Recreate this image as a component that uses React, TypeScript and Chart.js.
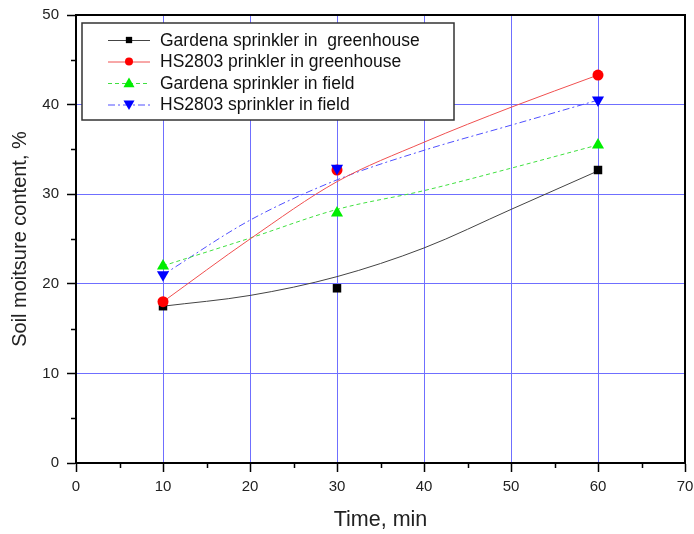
import React, { useEffect, useRef } from 'react';
import { Chart, registerables } from 'chart.js';

Chart.register(...registerables);

// fitted curve values
const curveX = [10, 20, 30, 40, 50, 60];
const curveGardenaGreenhouse = [17.5, 18.7, 20.8, 24.0, 28.3, 32.6];
const curveHSGreenhouse = [18.0, 25.0, 31.4, 35.8, 39.7, 43.3];
const curveGardenaField = [22.0, 25.1, 28.3, 30.4, 32.9, 35.5];
const curveHSField = [21.0, 27.1, 31.6, 34.9, 37.7, 40.5];

// measured points
const pointX = [10, 30, 60];
const ptsGardenaGreenhouse = [17.5, 19.5, 32.7];
const ptsHSGreenhouse = [18.0, 32.7, 43.3];
const ptsGardenaField = [22.0, 27.9, 35.5];
const ptsHSField = [21.0, 32.9, 40.5];

const seriesLabels = [
  'Gardena sprinkler in  greenhouse',
  'HS2803 prinkler in greenhouse',
  'Gardena sprinkler in field',
  'HS2803 sprinkler in field',
];

const xTicks = [0, 10, 20, 30, 40, 50, 60, 70];
const yTicks = [0, 10, 20, 30, 40, 50];
const xMinor = [5, 15, 25, 35, 45, 55, 65];
const yMinor = [5, 15, 25, 35, 45];

const FONT = "'Liberation Sans', Arial, sans-serif";
const GRID = '#6f6fff';

const styles = [
  { line: '#444444', marker: '#000000', dash: [] as number[], shape: 'rect' },
  { line: '#f05050', marker: '#ff0000', dash: [] as number[], shape: 'circle' },
  { line: '#40e040', marker: '#00ee00', dash: [4, 3], shape: 'triangle' },
  { line: '#5050ff', marker: '#0000ff', dash: [7, 3, 2, 3], shape: 'triangleDown' },
];

const zip = (xs: number[], ys: number[]) => xs.map((x, i) => ({ x, y: ys[i] }));

function drawMarker(ctx: CanvasRenderingContext2D, shape: string, x: number, y: number, s: number, color: string) {
  ctx.save();
  ctx.fillStyle = color;
  ctx.beginPath();
  if (shape === 'rect') {
    ctx.rect(x - s * 0.7, y - s * 0.7, s * 1.4, s * 1.4);
  } else if (shape === 'circle') {
    ctx.arc(x, y, s * 0.8, 0, Math.PI * 2);
  } else if (shape === 'triangle') {
    ctx.moveTo(x, y - s);
    ctx.lineTo(x + s, y + s * 0.75);
    ctx.lineTo(x - s, y + s * 0.75);
    ctx.closePath();
  } else {
    ctx.moveTo(x, y + s);
    ctx.lineTo(x + s, y - s * 0.75);
    ctx.lineTo(x - s, y - s * 0.75);
    ctx.closePath();
  }
  ctx.fill();
  ctx.restore();
}

const framePlugin = {
  id: 'frameAndMinor',
  afterDraw(chart: any) {
    const { ctx, chartArea } = chart;
    const { left, right, top, bottom } = chartArea;
    const xs = chart.scales.x;
    const ys = chart.scales.y;
    ctx.save();
    ctx.strokeStyle = '#000';
    ctx.lineWidth = 2;
    ctx.strokeRect(left, top, right - left, bottom - top);
    ctx.lineWidth = 1.5;
    ctx.beginPath();
    xMinor.forEach((v) => {
      const px = Math.round(xs.getPixelForValue(v)) + 0.5;
      ctx.moveTo(px, bottom);
      ctx.lineTo(px, bottom + 5);
    });
    yMinor.forEach((v) => {
      const py = Math.round(ys.getPixelForValue(v)) + 0.5;
      ctx.moveTo(left, py);
      ctx.lineTo(left - 5, py);
    });
    ctx.stroke();
    ctx.restore();
  },
};

const legendPlugin = {
  id: 'boxLegend',
  afterDatasetsDraw(chart: any) {
    const { ctx } = chart;
    const bx = 82, by = 23, bw = 372, bh = 97;
    ctx.save();
    ctx.fillStyle = '#ffffff';
    ctx.fillRect(bx, by, bw, bh);
    ctx.strokeStyle = '#333333';
    ctx.lineWidth = 1.5;
    ctx.strokeRect(bx, by, bw, bh);
    const rows = [40, 61.5, 83, 104.5];
    ctx.font = `17.5px ${FONT}`;
    ctx.textBaseline = 'middle';
    ctx.textAlign = 'left';
    rows.forEach((ry, i) => {
      const st = styles[i];
      ctx.strokeStyle = st.line;
      ctx.lineWidth = 1;
      ctx.setLineDash(st.dash);
      ctx.beginPath();
      ctx.moveTo(108, ry + 0.5);
      ctx.lineTo(150, ry + 0.5);
      ctx.stroke();
      ctx.setLineDash([]);
      drawMarker(ctx, st.shape, 129, ry, st.shape === 'rect' ? 4.5 : st.shape === 'circle' ? 5 : 5.5, st.marker);
      ctx.fillStyle = '#111111';
      ctx.fillText(seriesLabels[i], 160, ry + 1);
    });
    ctx.restore();
  },
};

export default function App() {
  const ref = useRef<HTMLCanvasElement | null>(null);

  useEffect(() => {
    if (!ref.current) return;
    const curves = [curveGardenaGreenhouse, curveHSGreenhouse, curveGardenaField, curveHSField];
    const pts = [ptsGardenaGreenhouse, ptsHSGreenhouse, ptsGardenaField, ptsHSField];
    const pointStyles: any[] = ['rect', 'circle', 'triangle', 'triangle'];
    const radii = [6, 5.5, 7, 7];

    const datasets: any[] = [];
    curves.forEach((c, i) => {
      datasets.push({
        label: seriesLabels[i] + ' fit',
        data: zip(curveX, c),
        showLine: true,
        borderColor: styles[i].line,
        borderWidth: 1,
        borderDash: styles[i].dash,
        pointRadius: 0,
        cubicInterpolationMode: 'monotone',
        fill: false,
        order: 10,
      });
    });
    pts.forEach((p, i) => {
      datasets.push({
        label: seriesLabels[i],
        data: zip(pointX, p),
        showLine: false,
        pointStyle: pointStyles[i],
        rotation: i === 3 ? 180 : 0,
        pointRadius: radii[i],
        backgroundColor: styles[i].marker,
        borderColor: styles[i].marker,
        borderWidth: 0,
        order: 5 - i,
      });
    });

    const chart = new Chart(ref.current, {
      type: 'scatter',
      data: { datasets },
      options: {
        animation: false,
        responsive: false,
        maintainAspectRatio: false,
        layout: { padding: { left: 0, right: 9, top: 15, bottom: 0 } },
        plugins: { legend: { display: false }, tooltip: { enabled: false } },
        scales: {
          x: {
            type: 'linear',
            min: 0,
            max: 70,
            afterFit: (s: any) => { s.height = 71; s.paddingLeft = 0; s.paddingRight = 0; },
            afterBuildTicks: (s: any) => { s.ticks = xTicks.map((v) => ({ value: v })); },
            ticks: { color: '#222', font: { family: FONT, size: 15 }, padding: 6, maxRotation: 0 },
            grid: { color: GRID, lineWidth: 1, tickLength: 9, tickColor: '#000', tickWidth: 1.5 },
            border: { color: '#000', width: 2 },
            title: { display: true, text: 'Time, min', color: '#222', font: { family: FONT, size: 21.5 }, padding: { top: 0, bottom: 1 } },
          },
          y: {
            type: 'linear',
            min: 0,
            max: 50,
            afterFit: (s: any) => { s.width = 76; s.paddingTop = 0; s.paddingBottom = 0; },
            afterBuildTicks: (s: any) => { s.ticks = yTicks.map((v) => ({ value: v })); },
            ticks: { color: '#222', font: { family: FONT, size: 15 }, padding: 8 },
            grid: { color: GRID, lineWidth: 1, tickLength: 9, tickColor: '#000', tickWidth: 1.5 },
            border: { color: '#000', width: 2 },
            title: { display: true, text: 'Soil moitsure content, %', color: '#222', font: { family: FONT, size: 20 }, padding: { top: 8, bottom: 0 } },
          },
        },
      },
      plugins: [framePlugin, legendPlugin],
    } as any);
    return () => chart.destroy();
  }, []);

  return (
    <div style={{ position: 'fixed', left: 0, top: 0, width: 694, height: 534, background: '#fff' }}>
      <canvas ref={ref} width={694} height={534} style={{ width: 694, height: 534, display: 'block' }} />
    </div>
  );
}
